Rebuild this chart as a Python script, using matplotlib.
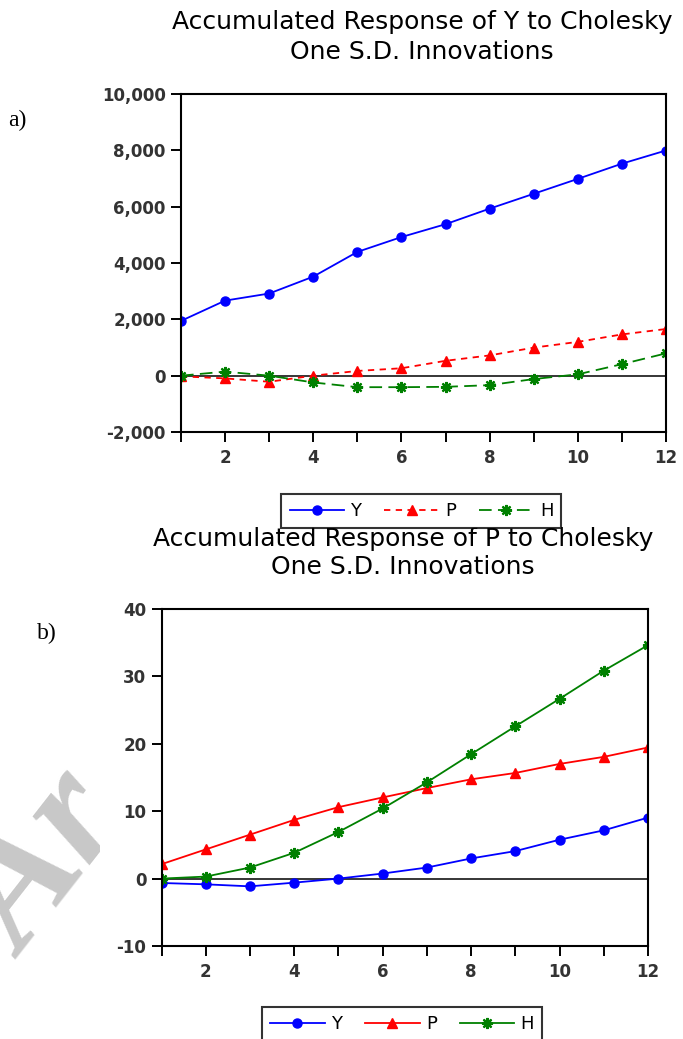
import matplotlib
matplotlib.use("Agg")
import matplotlib.pyplot as plt
from matplotlib.ticker import FuncFormatter, MultipleLocator
from matplotlib.transforms import Bbox, TransformedBbox
import numpy as np

# periodos
periodos = np.arange(1, 13)

# a) respuesta acumulada de Y
y_resp_Y = [1945, 2665, 2917, 3517, 4394, 4922, 5378, 5930, 6458, 6987, 7527, 7995]
y_resp_P = [-24, -96, -216, 0, 168, 264, 528, 720, 996, 1200, 1465, 1657]
y_resp_H = [0, 144, 0, -240, -408, -408, -396, -336, -120, 48, 408, 792]

# b) respuesta acumulada de P
p_resp_Y = [-0.65, -0.85, -1.15, -0.6, 0.0, 0.75, 1.64, 2.99, 4.08, 5.77, 7.16, 9.05]
p_resp_P = [2.14, 4.33, 6.52, 8.71, 10.6, 12.04, 13.43, 14.73, 15.67, 17.01, 18.06, 19.45]
p_resp_H = [0.0, 0.3, 1.64, 3.83, 6.92, 10.4, 14.28, 18.46, 22.59, 26.67, 30.85, 34.63]

nombres = ["Y", "P", "H"]
titulos = ["Accumulated Response of Y to Cholesky", "Accumulated Response of P to Cholesky"]
subtitulo = "One S.D. Innovations"

AZUL = "#0000ff"
ROJO = "#ff0000"
VERDE = "#008000"
ESTRELLA = (8, 2, 0)

fig = plt.figure(figsize=(6.83, 10.39), dpi=100)

# marca de agua gris detras de todo (recortada en x=100 px como en el original)
wm = fig.text(0.036, 1 - 960 / 1039, "Ar", fontsize=118, family="Liberation Serif",
              style="italic", weight="bold", color="#c8c8c8",
              rotation=52, rotation_mode="anchor", ha="left", va="baseline", zorder=0)
wm.set_clip_box(TransformedBbox(Bbox.from_extents(0, 0, 100 / 683, 1), fig.transFigure))
wm.set_clip_on(True)


def preparar_ejes(ax, ymin, ymax, paso, fmt):
    ax.set_xlim(1, 12)
    ax.set_ylim(ymin, ymax)
    ax.xaxis.set_major_locator(MultipleLocator(2))
    ax.xaxis.set_minor_locator(MultipleLocator(1))
    ax.yaxis.set_major_locator(MultipleLocator(paso))
    ax.yaxis.set_major_formatter(FuncFormatter(fmt))
    ax.tick_params(axis="both", which="both", direction="out", length=7, width=1.4,
                   labelsize=12, pad=4)
    ax.tick_params(axis="x", pad=5)
    for s in ax.spines.values():
        s.set_linewidth(1.5)
    ax.axhline(0, color="black", lw=1.1, zorder=1)
    for lab in ax.get_xticklabels() + ax.get_yticklabels():
        lab.set_fontweight("bold")
        lab.set_color("#333333")


def leyenda(ax, y_anchor, x_anchor, loc):
    leg = fig.legend(handles=ax.get_lines()[:3], loc=loc, ncol=3,
                     bbox_to_anchor=(x_anchor, y_anchor), fontsize=13,
                     handlelength=3.0, handletextpad=0.35, columnspacing=1.3,
                     frameon=True, fancybox=False, borderpad=0.45, borderaxespad=0)
    leg.get_frame().set_edgecolor("black")
    leg.get_frame().set_linewidth(1.5)
    return leg


# ---- a) ----
ax1 = fig.add_axes([0.265, 0.5842, 0.710, 0.3253])
ax1.plot(periodos, y_resp_Y, "-", color=AZUL, lw=1.3, marker="o", ms=6.5, label=nombres[0])
ax1.plot(periodos, y_resp_P, color=ROJO, lw=1.3, ls=(0, (3.5, 3)), marker="^", ms=6.5,
         label=nombres[1])
ax1.plot(periodos, y_resp_H, color=VERDE, lw=1.3, ls=(0, (7, 3.5)), marker=ESTRELLA, ms=8,
         mew=1.6, label=nombres[2])
preparar_ejes(ax1, -2000, 10000, 2000, lambda v, p: f"{int(v):,}")

fig.text(0.618, 1 - 22 / 1039, titulos[0], ha="center", va="center", fontsize=18)
fig.text(0.618, 1 - 52 / 1039, subtitulo, ha="center", va="center", fontsize=18)
fig.text(0.012, 1 - 120 / 1039, "a)", ha="left", va="center", fontsize=17,
         family="Liberation Serif")
leyenda(ax1, 1 - 511 / 1039, 0.617, "center")

# ---- b) ----
ax2 = fig.add_axes([0.2365, 0.0895, 0.7123, 0.3244])
ax2.plot(periodos, p_resp_Y, "-", color=AZUL, lw=1.3, marker="o", ms=6.5, label=nombres[0])
ax2.plot(periodos, p_resp_P, "-", color=ROJO, lw=1.3, marker="^", ms=6.5, label=nombres[1])
ax2.plot(periodos, p_resp_H, "-", color=VERDE, lw=1.3, marker=ESTRELLA, ms=8, mew=1.6,
         label=nombres[2])
preparar_ejes(ax2, -10, 40, 10, lambda v, p: f"{int(v)}")

fig.text(0.590, 1 - 539 / 1039, titulos[1], ha="center", va="center", fontsize=18)
fig.text(0.590, 1 - 567 / 1039, subtitulo, ha="center", va="center", fontsize=18)
fig.text(0.054, 1 - 633 / 1039, "b)", ha="left", va="center", fontsize=17,
         family="Liberation Serif")
leyenda(ax2, 1 - 1007 / 1039, 0.589, "upper center")

fig.savefig("out.png", dpi=100)
